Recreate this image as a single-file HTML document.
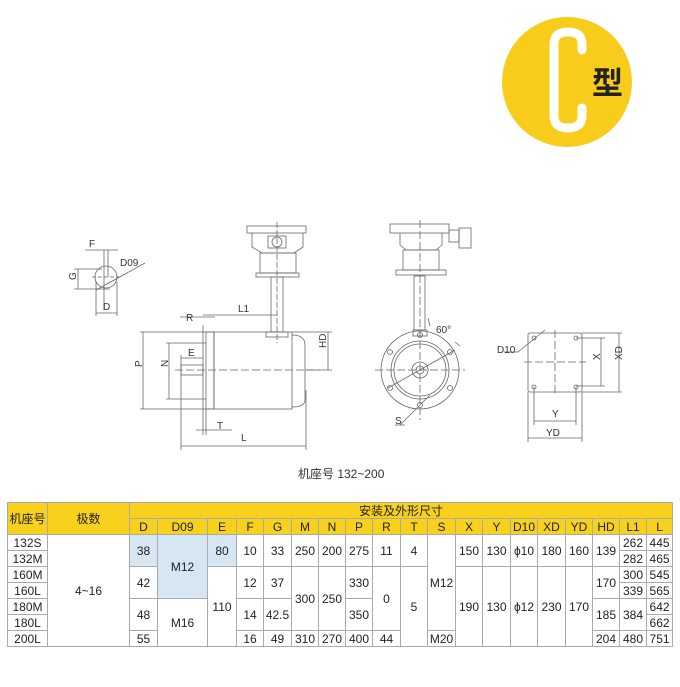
<!DOCTYPE html>
<html><head><meta charset="utf-8"><style>
html,body{margin:0;padding:0;background:#fff;}
body{width:680px;height:687px;position:relative;overflow:hidden;font-family:"Liberation Sans","Noto Sans CJK SC",sans-serif;}
svg{position:absolute;left:0;top:0;}
table{position:absolute;left:7px;top:502px;border-collapse:collapse;table-layout:fixed;width:665px;font-size:12px;color:#222;}
td{border:1px solid #aaa;text-align:center;padding:0;height:15px;line-height:14px;overflow:hidden;white-space:nowrap;}
.h td{background:#f8d11c;}
.b{background:#d6e6f3;}
</style></head><body>
<svg width="680" height="687" viewBox="0 0 680 687">
<circle cx="567" cy="82" r="65" fill="#f8cc1a"/>
<path d="M582 50 V44 Q582 32 568 32 Q554 32 554 44 V116 Q554 128 568 128 Q582 128 582 116 V108" fill="none" stroke="#fff" stroke-width="9" stroke-linecap="round"/>
<text x="592" y="94" font-size="31" font-weight="bold" fill="#222" font-family="Noto Sans CJK SC,sans-serif">型</text>
<g fill="none" stroke="#666" stroke-width="0.8">
<circle cx="106" cy="277" r="11"/>
<line x1="92" y1="277" x2="121" y2="277" stroke-dasharray="4 2"/>
<line x1="104" y1="250" x2="104" y2="310"/><line x1="108" y1="250" x2="108" y2="277"/>
<line x1="85" y1="250" x2="118" y2="250"/>
<line x1="74" y1="269" x2="102" y2="269"/><line x1="74" y1="289" x2="110" y2="289"/>
<line x1="78" y1="269" x2="78" y2="289"/>
<line x1="96" y1="290" x2="145" y2="263"/>
<line x1="96" y1="282" x2="96" y2="316"/><line x1="117" y1="282" x2="117" y2="316"/>
<line x1="96" y1="313" x2="117" y2="313"/>
<rect x="214" y="332" width="78" height="77"/>
<path d="M292 335 Q305 335 305 345 V400 Q305 407 292 407"/>
<rect x="206" y="332" width="8" height="77"/>
<line x1="203" y1="325" x2="203" y2="435"/>
<rect x="181" y="365" width="22" height="10"/>
<line x1="175" y1="370" x2="320" y2="370" stroke-dasharray="8 3"/>
<rect x="266" y="332" width="22" height="5"/>
<rect x="271" y="277" width="12" height="55"/>
<rect x="256" y="273" width="43" height="4"/>
<rect x="260" y="253" width="36" height="20"/>
<path d="M252 233 V247 L262 253 H294 L303 247 V233"/>
<rect x="247" y="226" width="59" height="7"/>
<circle cx="277" cy="242" r="5"/><rect x="268" y="236" width="18" height="12"/>
<line x1="277" y1="222" x2="277" y2="343" stroke-dasharray="6 2"/>
<line x1="203" y1="315" x2="277" y2="315"/>
<line x1="180" y1="317" x2="215" y2="317"/>
<line x1="140" y1="332" x2="214" y2="332"/><line x1="140" y1="409" x2="214" y2="409"/>
<line x1="143" y1="332" x2="143" y2="409"/>
<line x1="166" y1="343" x2="206" y2="343"/><line x1="166" y1="399" x2="206" y2="399"/>
<line x1="169" y1="343" x2="169" y2="399"/>
<line x1="181" y1="358" x2="203" y2="358"/><line x1="181" y1="355" x2="181" y2="450"/>
<line x1="292" y1="332" x2="332" y2="332"/><line x1="305" y1="370" x2="332" y2="370"/>
<line x1="328" y1="332" x2="328" y2="370"/>
<line x1="196" y1="430" x2="232" y2="430"/><line x1="206" y1="409" x2="206" y2="435"/>
<line x1="181" y1="446" x2="306" y2="446"/><line x1="306" y1="390" x2="306" y2="450"/>
<circle cx="420" cy="370" r="39"/><circle cx="420" cy="370" r="29"/><circle cx="420" cy="370" r="26"/>
<circle cx="420" cy="370" r="8"/><circle cx="420" cy="370" r="4"/>
<line x1="375" y1="370" x2="465" y2="370" stroke-dasharray="8 3"/>
<line x1="420" y1="220" x2="420" y2="420" stroke-dasharray="8 3"/>
<circle cx="420" cy="335" r="2.5"/><circle cx="390" cy="352" r="2.5"/><circle cx="450" cy="352" r="2.5"/>
<circle cx="390" cy="388" r="2.5"/><circle cx="450" cy="388" r="2.5"/><circle cx="420" cy="405" r="2.5"/>
<line x1="388" y1="388" x2="455" y2="350"/>
<line x1="400" y1="425" x2="430" y2="395"/>
<line x1="395" y1="425" x2="405" y2="425"/>
<rect x="413" y="330" width="14" height="6"/>
<rect x="414" y="276" width="11" height="54"/>
<rect x="396" y="270" width="50" height="5"/>
<path d="M400 233 V245 L406 250 H436 L442 245 V233"/>
<rect x="403" y="250" width="36" height="20"/>
<rect x="390" y="224" width="59" height="9"/>
<rect x="449" y="230" width="10" height="12"/><rect x="459" y="228" width="12" height="20"/>
<line x1="428" y1="318" x2="430" y2="326"/><line x1="455" y1="342" x2="460" y2="346"/>
<rect x="528" y="333" width="54" height="59" rx="2"/>
<line x1="524" y1="362" x2="586" y2="362" stroke-dasharray="8 3"/>
<line x1="555" y1="330" x2="555" y2="396" stroke-dasharray="8 3"/>
<circle cx="534" cy="338" r="2"/><circle cx="576" cy="338" r="2"/><circle cx="534" cy="387" r="2"/><circle cx="576" cy="387" r="2"/>
<line x1="518" y1="352" x2="545" y2="330"/><line x1="504" y1="352" x2="518" y2="352"/>
<line x1="576" y1="338" x2="605" y2="338"/><line x1="576" y1="386" x2="605" y2="386"/>
<line x1="601" y1="338" x2="601" y2="386"/>
<line x1="582" y1="333" x2="622" y2="333"/><line x1="582" y1="392" x2="622" y2="392"/>
<line x1="619" y1="333" x2="619" y2="392"/>
<line x1="534" y1="387" x2="534" y2="425"/><line x1="576" y1="387" x2="576" y2="425"/>
<line x1="534" y1="421" x2="576" y2="421"/>
<line x1="528" y1="392" x2="528" y2="442"/><line x1="582" y1="392" x2="582" y2="442"/>
<line x1="528" y1="438" x2="582" y2="438"/>
</g>
<g font-size="10" fill="#333" font-family="Liberation Sans,sans-serif">
<text x="89" y="247">F</text><text x="120" y="266">D09</text>
<text x="73" y="283" transform="rotate(-90 73 280)">G</text>
<text x="103" y="310">D</text>
<text x="238" y="312">L1</text><text x="186" y="321">R</text>
<text x="141" y="374" transform="rotate(-90 138 370)">P</text>
<text x="167" y="374" transform="rotate(-90 164 370)">N</text>
<text x="188" y="356">E</text>
<text x="326" y="356" transform="rotate(-90 322 352)">HD</text>
<text x="217" y="429">T</text><text x="241" y="441">L</text>
<text x="436" y="333">60°</text><text x="395" y="424">S</text>
<text x="497" y="353">D10</text>
<text x="598" y="366" transform="rotate(-90 596 362)">X</text>
<text x="620" y="366" transform="rotate(-90 618 362)">XD</text>
<text x="552" y="417">Y</text><text x="546" y="436">YD</text>
</g>
<text x="298" y="478" font-size="12" fill="#333" font-family="Liberation Sans,Noto Sans CJK SC,sans-serif">机座号 132~200</text>
</svg>
<table>
<colgroup><col style="width:40px"><col style="width:82px"><col style="width:28px"><col style="width:50px"><col style="width:29px"><col style="width:27px"><col style="width:28px"><col style="width:27px"><col style="width:27px"><col style="width:27px"><col style="width:28px"><col style="width:27px"><col style="width:28px"><col style="width:27px"><col style="width:28px"><col style="width:27px"><col style="width:28px"><col style="width:27px"><col style="width:27px"><col style="width:27px"><col style="width:26px"></colgroup>
<tr class="h"><td rowspan="2">机座号</td><td rowspan="2">极数</td><td colspan="19">安装及外形尺寸</td></tr>
<tr class="h"><td>D</td><td>D09</td><td>E</td><td>F</td><td>G</td><td>M</td><td>N</td><td>P</td><td>R</td><td>T</td><td>S</td><td>X</td><td>Y</td><td>D10</td><td>XD</td><td>YD</td><td>HD</td><td>L1</td><td>L</td></tr>
<tr><td>132S</td><td rowspan="7">4~16</td><td rowspan="2" class="b">38</td><td rowspan="4" class="b">M12</td><td rowspan="2" class="b">80</td><td rowspan="2">10</td><td rowspan="2">33</td><td rowspan="2">250</td><td rowspan="2">200</td><td rowspan="2">275</td><td rowspan="2">11</td><td rowspan="2">4</td><td rowspan="6">M12</td><td rowspan="2">150</td><td rowspan="2">130</td><td rowspan="2">ϕ10</td><td rowspan="2">180</td><td rowspan="2">160</td><td rowspan="2">139</td><td>262</td><td>445</td></tr>
<tr><td>132M</td><td>282</td><td>465</td></tr>
<tr><td>160M</td><td rowspan="2">42</td><td rowspan="5">110</td><td rowspan="2">12</td><td rowspan="2">37</td><td rowspan="4">300</td><td rowspan="4">250</td><td rowspan="2">330</td><td rowspan="4">0</td><td rowspan="5">5</td><td rowspan="5">190</td><td rowspan="5">130</td><td rowspan="5">ϕ12</td><td rowspan="5">230</td><td rowspan="5">170</td><td rowspan="2">170</td><td>300</td><td>545</td></tr>
<tr><td>160L</td><td>339</td><td>565</td></tr>
<tr><td>180M</td><td rowspan="2">48</td><td rowspan="3">M16</td><td rowspan="2">14</td><td rowspan="2">42.5</td><td rowspan="2">350</td><td rowspan="2">185</td><td rowspan="2">384</td><td>642</td></tr>
<tr><td>180L</td><td>662</td></tr>
<tr><td>200L</td><td>55</td><td>16</td><td>49</td><td>310</td><td>270</td><td>400</td><td>44</td><td>M20</td><td>204</td><td>480</td><td>751</td></tr>
</table>
</body></html>
